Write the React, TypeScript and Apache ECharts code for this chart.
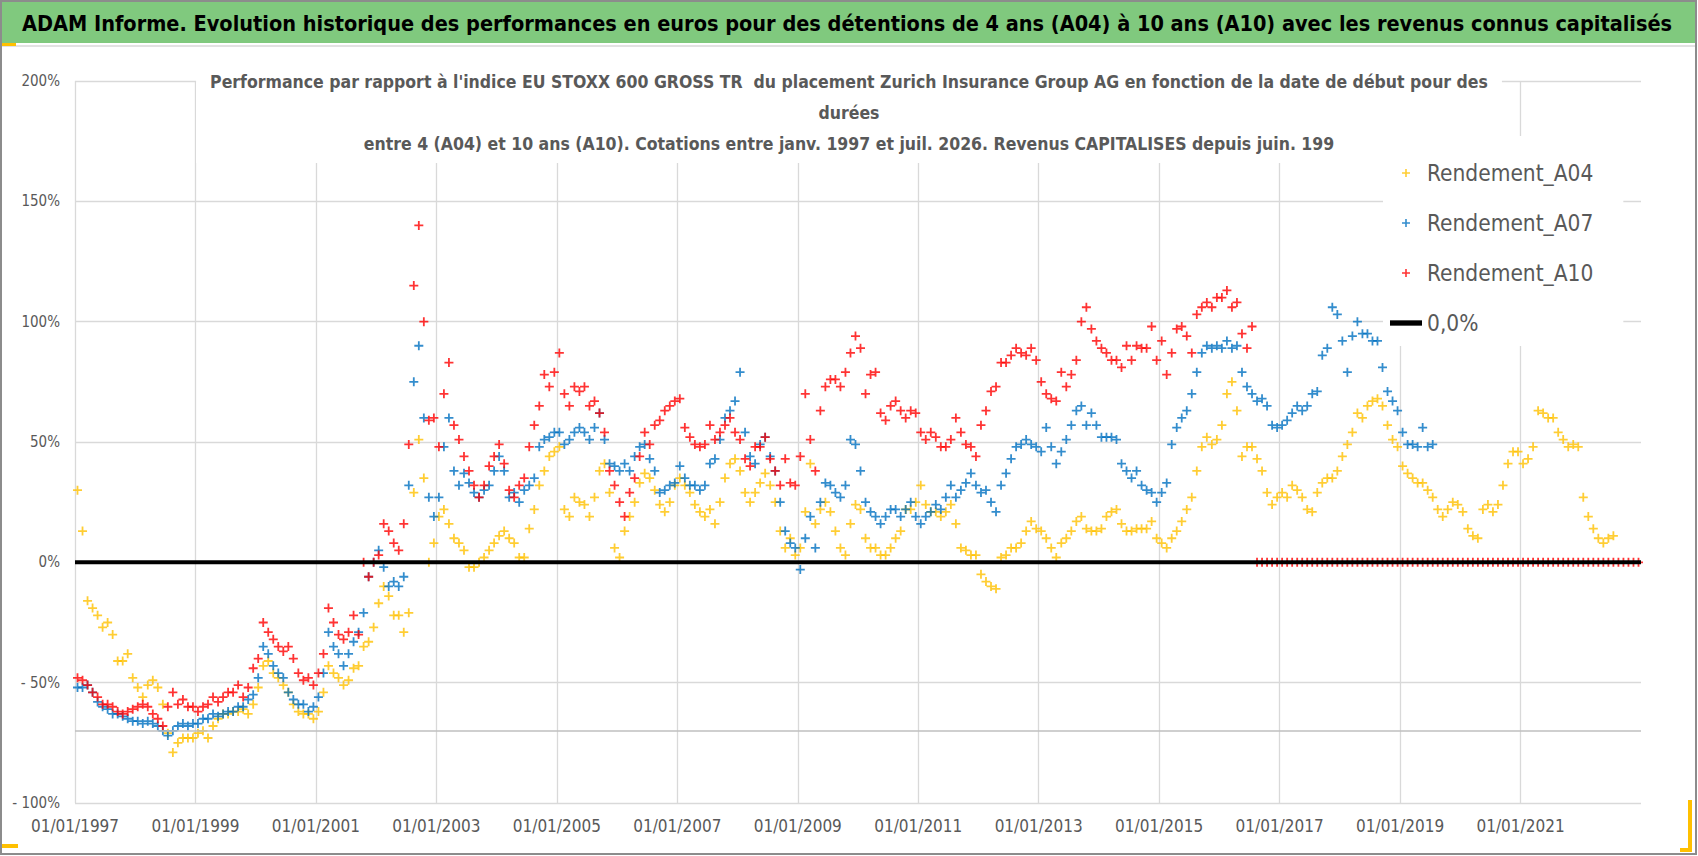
import React, { useEffect, useRef } from "react";
import * as echarts from "echarts";

// monthly values (%) from janv. 1997
const A04 = [
  30, 13, -16, -19, -22, -27, -25, -30, -41, -41, -38, -48,
  -52, -56, -51, -49, -52, -59, -71, -79, -75, -73, -73, -73,
  -71, -70, -73, -68, -65, -63, -63, -62, -62, -61, -63, -59,
  -52, -43, -41, -46, -48, -51, -54, -59, -62, -63, -63, -65,
  -62, -54, -43, -46, -48, -51, -49, -44, -43, -35, -33, -27,
  -17, -10, -14, -22, -22, -29, -21, 29, 51, 35, 0, 8,
  19, 22, 16, 10, 8, 5, -2, -2, 0, 2, 5, 8,
  11, 13, 10, 8, 2, 2, 14, 22, 32, 38, 44, 46,
  48, 22, 19, 27, 25, 24, 19, 27, 38, 41, 29, 6,
  2, 13, 19, 25, 33, 37, 35, 30, 24, 21, 25, 32,
  35, 32, 29, 24, 21, 19, 22, 16, 25, 35, 41, 43,
  38, 29, 25, 29, 33, 37, 32, 25, 13, 6, 10, 3,
  6, 21, 41, 16, 22, 25, 21, 13, 6, 3, 16, 24,
  22, 10, 6, 6, 3, 3, 6, 10, 13, 22, 22, 25,
  32, 24, 21, 21, 19, 21, 24, 16, 6, 5, 3, 3,
  -5, -8, -10, -11, 2, 3, 6, 6, 8, 13, 17, 14,
  13, 10, 6, 2, 8, 10, 13, 17, 19, 14, 13, 13,
  14, 19, 21, 22, 16, 13, 13, 14, 14, 14, 17, 10,
  8, 6, 10, 13, 17, 22, 27, 38, 48, 52, 49, 51,
  57, 70, 75, 63, 44, 48, 48, 43, 38, 29, 24, 27,
  29, 27, 32, 30, 27, 22, 21, 29, 33, 35, 35, 38,
  44, 49, 54, 62, 60, 65, 67, 68, 65, 57, 51, 48,
  40, 37, 35, 33, 33, 30, 27, 22, 19, 22, 25, 24,
  21, 14, 11, 10, 22, 24, 21, 24, 32, 41, 46, 46,
  41, 43, 48, 63, 62, 60, 60, 54, 51, 48, 49, 48,
  27, 19, 14, 10, 8, 10, 11,
];

const A07 = [
  -52, -52, -51, -54, -58, -60, -61, -63, -63, -64, -65, -66,
  -66, -67, -66, -67, -68, -70, -72, -70, -68, -67, -68, -67,
  -67, -65, -65, -63, -64, -63, -62, -62, -60, -60, -57, -55,
  -48, -35, -38, -43, -46, -48, -54, -57, -59, -59, -62, -60,
  -56, -46, -29, -35, -38, -43, -38, -33, -29, -21, -6, 0,
  5, -2, -10, -8, -10, -6, 32, 75, 90, 60, 27, 19,
  27, 48, 60, 38, 32, 37, 33, 29, 27, 30, 32, 38,
  44, 38, 27, 29, 25, 30, 32, 35, 48, 51, 52, 54,
  54, 49, 51, 54, 56, 54, 51, 56, 62, 51, 41, 40,
  38, 41, 38, 44, 48, 49, 43, 38, 29, 30, 32, 33,
  40, 35, 32, 32, 30, 32, 41, 43, 51, 60, 63, 67,
  79, 54, 44, 41, 49, 52, 44, 38, 25, 13, 8, 6,
  -3, 10, 19, 6, 25, 33, 32, 29, 27, 32, 51, 49,
  38, 25, 21, 19, 16, 19, 22, 22, 19, 22, 25, 19,
  16, 19, 21, 24, 22, 27, 32, 27, 30, 33, 37, 32,
  29, 30, 25, 21, 32, 37, 43, 48, 49, 51, 49, 48,
  46, 56, 48, 41, 46, 51, 57, 63, 65, 57, 62, 57,
  52, 52, 52, 51, 41, 38, 35, 38, 32, 30, 29, 25,
  29, 33, 49, 56, 60, 63, 70, 79, 87, 90, 89, 90,
  89, 92, 89, 90, 79, 73, 70, 67, 68, 65, 57, 56,
  57, 59, 62, 65, 63, 65, 70, 71, 86, 89, 106, 103,
  92, 79, 94, 100, 95, 95, 92, 92, 81, 71, 67, 63,
  54, 49, 49, 48, 56, 48, 49,
];

const A10 = [
  -48, -49, -51, -54, -56, -59, -59, -60, -62, -63, -62, -61,
  -60, -59, -60, -63, -65, -68, -60, -54, -59, -57, -60, -60,
  -62, -60, -59, -56, -58, -56, -54, -54, -51, -56, -52, -44,
  -40, -25, -29, -32, -35, -37, -35, -40, -46, -49, -48, -51,
  -46, -38, -19, -25, -30, -32, -29, -22, -30, 0, -6, 0,
  3, 16, 13, 8, 5, 16, 49, 115, 140, 100, 59, 60,
  48, 70, 83, 57, 51, 44, 38, 32, 27, 32, 40, 44,
  49, 41, 30, 27, 32, 35, 48, 57, 65, 78, 73, 79,
  87, 70, 65, 73, 71, 73, 65, 67, 62, 54, 38, 32,
  25, 19, 29, 35, 44, 54, 49, 57, 59, 63, 65, 67,
  68, 56, 52, 49, 48, 49, 57, 51, 54, 57, 60, 54,
  51, 43, 40, 48, 48, 52, 43, 38, 32, 43, 33, 32,
  44, 70, 51, 38, 63, 73, 76, 76, 73, 79, 87, 94,
  89, 70, 78, 79, 62, 59, 65, 67, 63, 60, 63, 62,
  54, 51, 54, 52, 48, 48, 51, 60, 54, 49, 48, 44,
  57, 63, 71, 73, 83, 83, 86, 89, 87, 86, 89, 84,
  75, 70, 68, 67, 79, 73, 78, 84, 100, 106, 97, 92,
  89, 87, 84, 84, 81, 90, 84, 90, 89, 89, 98, 84,
  92, 78, 87, 97, 98, 94, 87, 103, 106, 108, 106, 110,
  110, 113, 106, 108, 95, 89, 98, 0, 0, 0, 0, 0,
  0, 0, 0, 0, 0, 0, 0, 0, 0, 0, 0, 0,
  0, 0, 0, 0, 0, 0, 0, 0, 0, 0, 0, 0,
  0, 0, 0, 0, 0, 0, 0, 0, 0, 0, 0, 0,
  0, 0, 0, 0, 0, 0, 0, 0, 0, 0, 0, 0,
  0, 0, 0, 0, 0, 0, 0, 0, 0, 0, 0, 0,
  0, 0, 0, 0, 0, 0, 0, 0, 0, 0, 0, 0,
];

// reference line 0,0% over the whole period (months since janv. 1997)
const ZERO_LINE = [[0, 0], [312, 0]];

const X_TICK_LABELS = [
  "01/01/1997", "01/01/1999", "01/01/2001", "01/01/2003", "01/01/2005",
  "01/01/2007", "01/01/2009", "01/01/2011", "01/01/2013", "01/01/2015",
  "01/01/2017", "01/01/2019", "01/01/2021", "01/01/2023",
];
const Y_TICKS = [-100, -50, 0, 50, 100, 150, 200];
const Y_TICK_LABELS = ["- 100%", "- 50%", "0%", "50%", "100%", "150%", "200%"];

const BANNER =
  "ADAM Informe. Evolution historique des performances en euros pour des détentions de 4 ans (A04) à 10 ans (A10) avec les revenus connus capitalisés";
const TITLE_LINES = [
  "Performance par rapport à l'indice EU STOXX 600 GROSS TR  du placement Zurich Insurance Group AG en fonction de la date de début pour des",
  "durées",
  "entre 4 (A04) et 10 ans (A10). Cotations entre janv. 1997 et juil. 2026. Revenus CAPITALISES depuis juin. 199",
];

const FONT = '"Liberation Sans Narrow", "Arial Narrow", "DejaVu Sans Condensed", "Noto Sans", sans-serif';
const PLUS = "path://M4,0H6V4H10V6H6V10H4V6H0V4H4Z";
const BAR = "path://M0,0H30V5H0Z";

const toPoints = (vals) => vals.map((v, i) => [i + 0.5, v]);

function scatter(name, color, vals) {
  return {
    name,
    type: "scatter",
    symbol: PLUS,
    symbolSize: 9,
    itemStyle: { color },
    data: toPoints(vals),
  };
}

export default function App() {
  const el = useRef(null);

  useEffect(() => {
    if (!el.current) return;
    const chart = echarts.init(el.current, null, { renderer: "svg" });

    chart.setOption({
      animation: false,
      backgroundColor: "#ffffff",
      textStyle: { fontFamily: FONT },
      title: {
        text: TITLE_LINES.join("\n"),
        left: "center",
        top: 64,
        padding: [2, 14, 4, 14],
        backgroundColor: "#ffffff",
        textStyle: {
          color: "#595959",
          fontSize: 17.5,
          fontWeight: "bold",
          lineHeight: 31,
          fontFamily: FONT,
        },
      },
      legend: {
        orient: "vertical",
        left: 1383,
        top: 136,
        padding: [25, 30, 11, 7],
        backgroundColor: "#ffffff",
        itemWidth: 32,
        itemHeight: 8,
        itemGap: 26,
        data: [
          { name: "Rendement_A04", icon: PLUS },
          { name: "Rendement_A07", icon: PLUS },
          { name: "Rendement_A10", icon: PLUS },
          { name: "0,0%", icon: BAR },
        ],
        textStyle: { color: "#595959", fontSize: 22.5, lineHeight: 24, fontFamily: FONT },
      },
      grid: { left: 75, right: 57, top: 81, bottom: 53 },
      xAxis: {
        type: "value",
        min: 0,
        max: 312,
        interval: 24,
        axisLine: { show: false },
        axisTick: { show: false },
        axisLabel: {
          color: "#595959",
          fontSize: 17,
          margin: 14,
          showMaxLabel: false,
          formatter: (v) => X_TICK_LABELS[Math.round(v / 24)] || "",
        },
        splitLine: { show: true, showMaxLine: false, lineStyle: { color: "#d9d9d9", width: 1.3 } },
      },
      yAxis: {
        type: "value",
        min: -100,
        max: 200,
        interval: 50,
        axisLine: { show: false },
        axisTick: { show: false },
        axisLabel: {
          color: "#595959",
          fontSize: 15,
          margin: 15,
          formatter: (v) => Y_TICK_LABELS[Y_TICKS.indexOf(v)] || "",
        },
        splitLine: { lineStyle: { color: "#d9d9d9", width: 1.3 } },
      },
      series: [
        {
          name: "0,0%",
          type: "line",
          symbol: "none",
          lineStyle: { color: "#000000", width: 4 },
          itemStyle: { color: "#000000" },
          data: ZERO_LINE,
          markLine: {
            silent: true,
            symbol: "none",
            label: { show: false },
            lineStyle: { color: "#bfbfbf", width: 1.6, type: "solid" },
            data: [{ yAxis: -70 }],
          },
        },
        scatter("Rendement_A04", "#ffc000", A04),
        scatter("Rendement_A07", "#0070c0", A07),
        scatter("Rendement_A10", "#ff0000", A10),
      ],
      graphic: [
        {
          type: "rect",
          z: 100,
          shape: { x: 1, y: 1, width: 1695, height: 853 },
          style: { fill: "none", stroke: "#8c8c8c", lineWidth: 2 },
        },
        {
          type: "rect",
          z: 90,
          shape: { x: 2, y: 2, width: 1693, height: 41 },
          style: { fill: "#80c97e" },
        },
        {
          type: "line",
          z: 90,
          shape: { x1: 2, y1: 46, x2: 1695, y2: 46 },
          style: { stroke: "#d9d9d9", lineWidth: 1.5 },
        },
        {
          type: "rect",
          z: 95,
          shape: { x: 2, y: 43, width: 14, height: 3 },
          style: { fill: "#ffc000" },
        },
        {
          type: "rect",
          z: 95,
          shape: { x: 2, y: 844, width: 16, height: 4 },
          style: { fill: "#ffc000" },
        },
        {
          type: "polyline",
          z: 95,
          shape: { points: [[1690, 800], [1690, 850], [1680, 850]] },
          style: { stroke: "#ffc000", lineWidth: 4, fill: "none" },
        },
        {
          type: "text",
          z: 96,
          x: 22,
          y: 23,
          style: {
            text: BANNER,
            fill: "#000000",
            font: `bold 21.5px ${FONT}`,
            verticalAlign: "middle",
          },
        },
      ],
    });

    return () => chart.dispose();
  }, []);

  return (
    <div style={{ position: "fixed", left: 0, top: 0, width: 1698, height: 856 }}>
      <div ref={el} style={{ width: "100%", height: "100%" }} />
    </div>
  );
}
